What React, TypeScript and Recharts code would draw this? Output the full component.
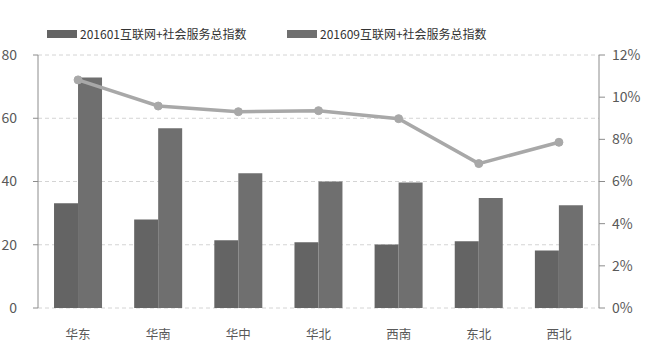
import { ComposedChart, Bar, Line, XAxis, YAxis, CartesianGrid, Legend } from 'recharts'

const regions = ['华东', '华南', '华中', '华北', '西南', '东北', '西北']
const index201601 = [33.1, 28.0, 21.4, 20.8, 20.1, 21.1, 18.2]
const index201609 = [72.9, 56.8, 42.6, 40.0, 39.7, 34.8, 32.5]
const growth = [10.82, 9.58, 9.31, 9.36, 8.98, 6.85, 7.86]
const leftTicks = [0, 20, 40, 60, 80]
const rightTicks = [0, 2, 4, 6, 8, 10, 12]

const data = regions.map((name, i) => ({
  name,
  a: index201601[i],
  b: index201609[i],
  g: growth[i],
}))

const font = '"Noto Sans CJK SC", "Noto Sans", sans-serif'

const legendItems = [
  { label: '201601互联网+社会服务总指数', color: '#646464', x: 47 },
  { label: '201609互联网+社会服务总指数', color: '#6f6f6f', x: 287 },
]

function ChartLegend() {
  return (
    <div style={{ position: 'relative', height: 35, fontFamily: font, fontSize: 12, color: '#333' }}>
      {legendItems.map((it) => (
        <div key={it.label} style={{ position: 'absolute', left: it.x, top: 5, display: 'flex', alignItems: 'center', whiteSpace: 'nowrap' }}>
          <span style={{ display: 'inline-block', width: 30, height: 8, background: it.color, marginRight: 3 }} />
          <span>{it.label}</span>
        </div>
      ))}
    </div>
  )
}

export default function App() {
  return (
    <div style={{ position: 'absolute', left: 0, top: 0, width: 648, height: 359, background: '#fff' }}>
      <ComposedChart
        width={648}
        height={359}
        data={data}
        margin={{ top: 20, right: 0, left: 0, bottom: 0 }}
        barCategoryGap="20%"
        barGap={0}
      >
        <CartesianGrid yAxisId="left" strokeDasharray="4 3" vertical={false} stroke="#d4d4d4" />
        <Legend verticalAlign="top" align="left" height={35} content={() => <ChartLegend />} wrapperStyle={{ left: 0, width: 648 }} />
        <XAxis
          dataKey="name"
          axisLine={false}
          tickLine={false}
          tickSize={0}
          tickMargin={22}
          height={51}
          tick={{ fill: '#595959', fontSize: 12.5, fontFamily: font }}
        />
        <YAxis
          yAxisId="left"
          domain={[0, 80]}
          ticks={leftTicks}
          width={38}
          tickSize={5}
          tickMargin={16}
          axisLine={{ stroke: '#8c8c8c' }}
          tickLine={{ stroke: '#8c8c8c' }}
          tick={{ fill: '#595959', fontSize: 14, fontFamily: font }}
        />
        <YAxis
          yAxisId="right"
          orientation="right"
          domain={[0, 12]}
          ticks={rightTicks}
          width={49}
          tickSize={6}
          tickMargin={7}
          axisLine={{ stroke: '#8c8c8c' }}
          tickLine={{ stroke: '#8c8c8c' }}
          tickFormatter={(v) => `${v}%`}
          tick={{ fill: '#595959', fontSize: 14, fontFamily: font }}
        />
        <Bar yAxisId="left" dataKey="a" fill="#646464" isAnimationActive={false} />
        <Bar yAxisId="left" dataKey="b" fill="#6f6f6f" isAnimationActive={false} />
        <Line
          yAxisId="right"
          type="linear"
          dataKey="g"
          stroke="#a8a8a8"
          strokeWidth={3.5}
          dot={{ r: 4, fill: '#a8a8a8', stroke: '#a8a8a8', strokeWidth: 1 }}
          isAnimationActive={false}
        />
      </ComposedChart>
    </div>
  )
}
